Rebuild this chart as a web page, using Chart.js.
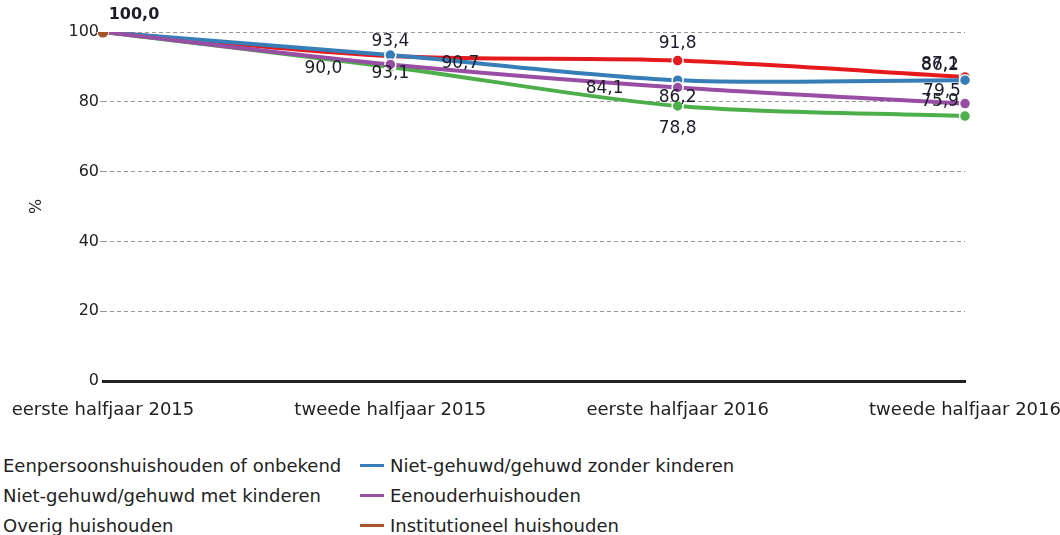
<!DOCTYPE html>
<html>
<head>
<meta charset="utf-8">
<script src="https://cdn.jsdelivr.net/npm/chart.js@4.4.1/dist/chart.umd.min.js"></script>
<style>
    html, body { margin: 0; padding: 0; background: #fff; overflow: hidden; }
    body { width: 1060px; height: 535px; position: relative; font-family: 'DejaVu Sans', sans-serif; }
    #wrap { position: absolute; left: 0; top: 0; width: 1060px; height: 420px; }
    #legend {
        position: absolute; left: -27px; top: 450px;
        display: grid; grid-template-columns: 387px 387px; grid-auto-rows: 30px;
        font-size: 18px; color: #222;
    }
    #legend .item { display: flex; align-items: center; white-space: nowrap; }
    #legend .swatch { width: 24px; height: 3px; margin-right: 6px; flex: none; }
</style>
</head>
<body>
<div id="wrap"><canvas id="chart"></canvas></div>
<div id="legend"></div>
<script>
    const categories = ['eerste halfjaar 2015', 'tweede halfjaar 2015', 'eerste halfjaar 2016', 'tweede halfjaar 2016'];
    const yTicks = [0, 20, 40, 60, 80, 100];

    const eenpersoons = [100, 93.1, 91.8, 87.1];
    const zonderKinderen = [100, 93.4, 86.2, 86.2];
    const metKinderen = [100, 90.0, 78.8, 75.9];
    const eenouder = [100, 90.7, 84.1, 79.5];
    const overig = [null, null, null, null];
    const institutioneel = [100, null, null, null];

    // label offsets (px from the point), null = no label
    const series = [
        { label: 'Eenpersoonshuishouden of onbekend', data: eenpersoons, color: '#e41a1c',
          offsets: [null, [0, 17], [0, -17], [-25, -12]] },
        { label: 'Niet-gehuwd/gehuwd zonder kinderen', data: zonderKinderen, color: '#377eb8',
          offsets: [null, [0, -13], [0, 17], [-25, -15]] },
        { label: 'Niet-gehuwd/gehuwd met kinderen', data: metKinderen, color: '#4daf4a',
          offsets: [null, [-67, 2], [0, 23], [-25, -15]] },
        { label: 'Eenouderhuishouden', data: eenouder, color: '#984ea3',
          offsets: [null, [70, -1], [-73, 1], [-23, -12]] },
        { label: 'Overig huishouden', data: overig, color: '#ff7f00',
          offsets: [null, null, null, null] },
        { label: 'Institutioneel huishouden', data: institutioneel, color: '#a65628',
          offsets: [[31, -17], null, null, null], bold: true },
    ];

    const fmt = v => v.toFixed(1).replace('.', ',');

    const valueLabels = {
        id: 'valueLabels',
        afterDatasetsDraw(chart) {
            const ctx = chart.ctx;
            ctx.save();
            ctx.textAlign = 'center';
            ctx.textBaseline = 'middle';
            ctx.fillStyle = '#1c1c2a';
            chart.data.datasets.forEach((ds, i) => {
                const meta = chart.getDatasetMeta(i);
                ds.labelOffsets.forEach((off, j) => {
                    if (!off || ds.data[j] == null) {
                        return;
                    }
                    const pt = meta.data[j];
                    ctx.font = ds.labelBold ? 'bold 16px "DejaVu Sans"' : '17px "DejaVu Sans"';
                    ctx.fillText(fmt(ds.data[j]), pt.x + off[0], pt.y + off[1]);
                });
            });
            ctx.restore();
        }
    };

    const chart = new Chart(document.getElementById('chart'), {
        type: 'line',
        plugins: [valueLabels],
        data: {
            labels: categories,
            // later series are drawn on top
            datasets: series.map((s, i) => ({
                label: s.label,
                data: s.data,
                borderColor: s.color,
                backgroundColor: s.color,
                pointBackgroundColor: s.color,
                pointBorderColor: s.bold ? s.color : '#fff',
                pointBorderWidth: s.bold ? 0 : 1.5,
                pointRadius: 5.5,
                borderWidth: 4,
                tension: 0.3,
                order: -i,
                labelOffsets: s.offsets,
                labelBold: !!s.bold,
            }))
        },
        options: {
            responsive: true,
            maintainAspectRatio: false,
            animation: false,
            layout: { padding: { top: 32, right: 95, left: 0, bottom: 0 } },
            plugins: {
                legend: { display: false },
                tooltip: { enabled: false },
            },
            scales: {
                x: {
                    offset: false,
                    grid: { display: false },
                    border: { display: true, color: '#222', width: 3 },
                    ticks: {
                        color: '#222',
                        font: { family: 'DejaVu Sans', size: 18 },
                        padding: 11,
                        maxRotation: 0,
                        autoSkip: false,
                    },
                    afterFit(scale) {
                        scale.height = 39;
                        scale.paddingLeft = 0;
                        scale.paddingRight = 0;
                    },
                },
                y: {
                    min: 0,
                    max: 100,
                    afterBuildTicks(scale) { scale.ticks = yTicks.map(v => ({ value: v })); },
                    grid: {
                        color: ctx => ctx.tick && ctx.tick.value === 0 ? 'rgba(0,0,0,0)' : '#999',
                        lineWidth: 1,
                        tickLength: 3,
                    },
                    border: { display: false, dash: [4, 3] },
                    ticks: {
                        color: '#222',
                        font: { family: 'DejaVu Sans', size: 16 },
                        padding: 1,
                    },
                    title: {
                        display: true,
                        text: '%',
                        color: '#222',
                        font: { family: 'DejaVu Sans', size: 16 },
                        padding: { top: 27, bottom: 0 },
                    },
                    afterFit(scale) { scale.width = 103; },
                }
            }
        }
    });

    const legend = document.getElementById('legend');
    series.forEach(s => {
        const item = document.createElement('div');
        item.className = 'item';
        const sw = document.createElement('span');
        sw.className = 'swatch';
        sw.style.background = s.color;
        const txt = document.createElement('span');
        txt.textContent = s.label;
        item.appendChild(sw);
        item.appendChild(txt);
        legend.appendChild(item);
    });
</script>
</body>
</html>
